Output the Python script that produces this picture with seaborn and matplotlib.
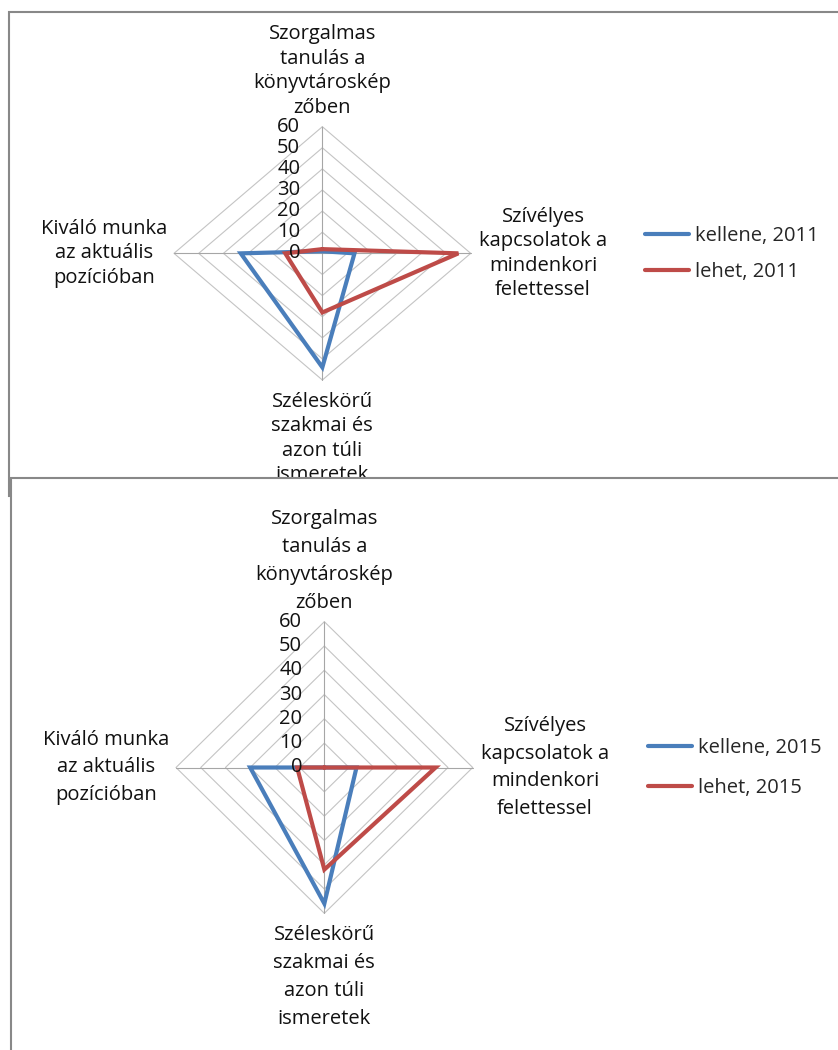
import numpy as np
import pandas as pd
import seaborn as sns
import matplotlib.pyplot as plt
from matplotlib.patches import Rectangle

sns.set_style("white")
plt.rcParams["font.family"] = ["Open Sans", "DejaVu Sans"]

# Radar categories, clockwise from the top
categories = ["Szorgalmas\ntanulás a\nkönyvtároskép\nzőben",
              "Szívélyes\nkapcsolatok a\nmindenkori\nfelettessel",
              "Széleskörű\nszakmai és\nazon túli\nismeretek",
              "Kiváló munka\naz aktuális\npozícióban"]
ticks = [0, 10, 20, 30, 40, 50, 60]

# Values
kellene_2011 = [1, 13, 54, 33]
lehet_2011 = [2, 55, 28, 15]
kellene_2015 = [0, 13, 56, 30]
lehet_2015 = [0, 45, 42, 11]

BLUE = "#4A7EBB"
RED = "#BE4B48"
FS = 14.5
W, H = 838, 1050


def fx(x):
    return x / W


def fy(y):
    return 1 - y / H


def radar(fig, box, series, names, linesp, top_off, legend_xy, legend_ls, z):
    left, top, right, bottom = box
    ax = fig.add_axes([fx(left), fy(bottom), fx(right) - fx(left), fy(top) - fy(bottom)],
                      projection = "polar")
    ax.set_aspect("auto")
    ax.set_zorder(z)
    ax.set_theta_zero_location("N")
    ax.set_theta_direction(-1)

    angles = np.deg2rad([0, 90, 180, 270])
    closed = np.append(angles, 2 * np.pi)

    # Straight-edged grid like Excel's radar chart
    for lev in ticks[1:]:
        ax.plot(closed, [lev] * 5, color = "#c4c4c4", lw = 0.8, clip_on = False, zorder = 1)
    for a in angles:
        ax.plot([a, a], [0, 60], color = "#a6a6a6", lw = 0.8, clip_on = False, zorder = 1)

    rows = []
    for name, vals in zip(names, series):
        for a, v in zip(closed, vals + vals[:1]):
            rows.append((a, v, name))
    df = pd.DataFrame(rows, columns = ["theta", "r", "series"])

    sns.lineplot(data = df, x = "theta", y = "r", hue = "series", palette = [BLUE, RED],
                 sort = False, estimator = None, lw = 3, legend = False, ax = ax,
                 solid_joinstyle = "miter", zorder = 3, clip_on = False)

    ax.set_ylim(0, 60)
    ax.set_xticks([])
    ax.set_yticks([])
    ax.set_xlabel("")
    ax.set_ylabel("")
    ax.grid(False)
    ax.spines["polar"].set_visible(False)
    ax.patch.set_visible(False)

    for v in ticks:
        ax.annotate(str(v), xy = (0, v), xytext = (-16, 0), textcoords = "offset points",
                    ha = "right", va = "center", fontsize = FS, color = "#111111",
                    annotation_clip = False)

    spots = [((0, top_off), "center", "bottom"), ((6, 0), "left", "center"),
             ((0, -8.5), "center", "top"), ((-5, 0), "right", "center")]
    for a, lab, (off, ha, va) in zip(angles, categories, spots):
        ax.annotate(lab, xy = (a, 60), xytext = off, textcoords = "offset points",
                    ha = ha, va = va, multialignment = "center", linespacing = linesp,
                    fontsize = FS, color = "#111111", annotation_clip = False)

    ax.legend(ax.lines[-2:], names, loc = "center left", bbox_to_anchor = legend_xy,
              bbox_transform = fig.transFigure, frameon = False, fontsize = FS,
              handlelength = 2.2, handletextpad = 0.3, labelspacing = legend_ls,
              borderpad = 0, borderaxespad = 0)
    return ax


fig = plt.figure(figsize = (W / 100, H / 100), dpi = 100)

# Panel frames (the second panel overlaps the first)
fig.add_artist(Rectangle((fx(9), fy(496)), (900 - 9) / W, (496 - 12) / H,
                         transform = fig.transFigure, facecolor = "white",
                         edgecolor = "#888888", lw = 1.5, zorder = -1))
fig.add_artist(Rectangle((fx(11), fy(1100)), (900 - 11) / W, (1100 - 478) / H,
                         transform = fig.transFigure, facecolor = "white",
                         edgecolor = "#888888", lw = 1.5, zorder = 1))

radar(fig, (174, 126.7, 470.7, 380), [kellene_2011, lehet_2011],
      ["kellene, 2011", "lehet, 2011"], 1.3, 6.5, (fx(645), fy(254)), 0.75, 0)
radar(fig, (176, 621.7, 472.7, 913.3), [kellene_2015, lehet_2015],
      ["kellene, 2015", "lehet, 2015"], 1.52, 6.5, (fx(648), fy(768)), 0.95, 2)

fig.savefig("out.png", dpi = 100)
